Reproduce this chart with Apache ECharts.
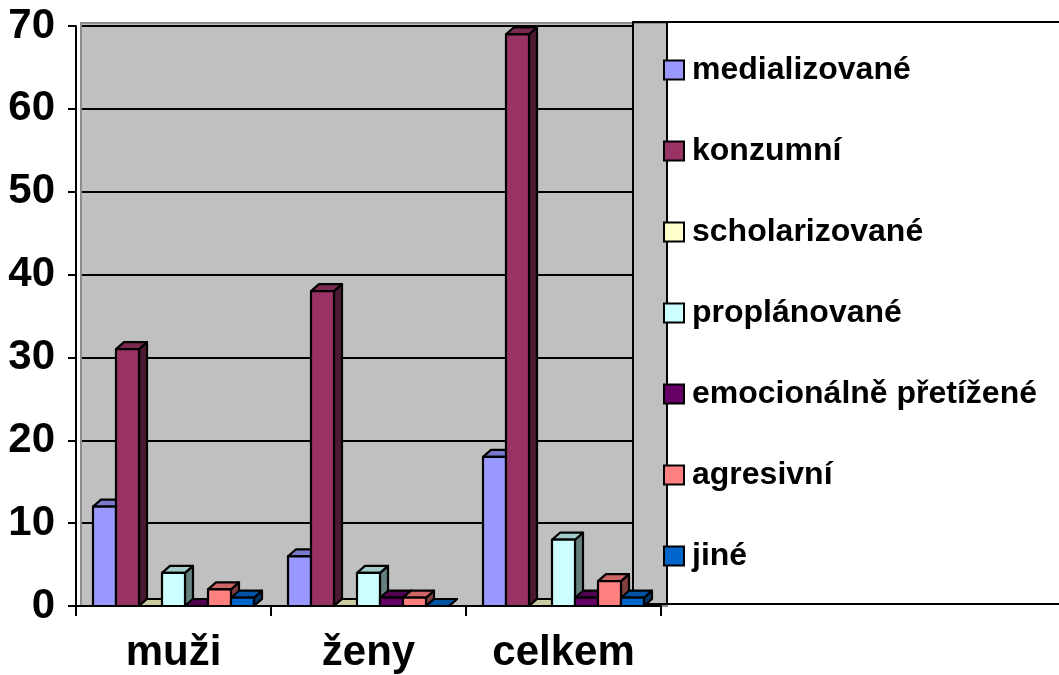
<!DOCTYPE html>
<html>
<head>
<meta charset="utf-8">
<script src="https://cdn.jsdelivr.net/npm/echarts@6/dist/echarts.min.js"></script>
<style>
  html, body { margin: 0; padding: 0; background: #fff; }
  #chart { width: 1059px; height: 675px; }
</style>
</head>
<body>
<div id="chart"></div>
<script>
// data
var categories = ["muži", "ženy", "celkem"];
var seriesNames = ["medializované", "konzumní", "scholarizované", "proplánované",
  "emocionálně přetížené", "agresivní", "jiné"];
var medializovane = [12, 6, 18];
var konzumni = [31, 38, 69];
var scholarizovane = [0, 0, 0];
var proplanovane = [4, 4, 8];
var emocionalne = [0, 1, 1];
var agresivni = [2, 1, 3];
var jine = [1, 0, 1];
var seriesValues = [medializovane, konzumni, scholarizovane, proplanovane, emocionalne, agresivni, jine];
var colors = ["#9999FF", "#993366", "#FFFFCC", "#CCFFFF", "#660066", "#FF8080", "#0066CC"];

var FONT = "'Liberation Sans', Arial, sans-serif";

// darken a hex colour
function shade(hex, k) {
  var n = parseInt(hex.slice(1), 16);
  var r = Math.round(((n >> 16) & 255) * k);
  var g = Math.round(((n >> 8) & 255) * k);
  var b = Math.round((n & 255) * k);
  return "rgb(" + r + "," + g + "," + b + ")";
}

// 3D looking bar (front + top + side)
function makeRenderItem(si) {
  return function (params, api) {
    var idx = api.value(0);
    var val = api.value(1);
    var base = api.coord([idx, 0]);
    var top = api.coord([idx, val]);
    var band = api.size([1, 0])[0];
    var w = band * 23 / 195;
    var x0 = base[0] - 3.5 * w + si * w;
    var dx = 8, dy = 7;
    var ty = top[1], by = base[1];
    var c = colors[si];
    var st = { stroke: "#000", lineWidth: 2.2, lineJoin: "round" };
    return {
      type: "group",
      children: [
        {
          type: "polygon",
          shape: { points: [[x0 + w, ty], [x0 + w + dx, ty - dy], [x0 + w + dx, by - dy], [x0 + w, by]] },
          style: Object.assign({ fill: shade(c, 0.5) }, st)
        },
        {
          type: "polygon",
          shape: { points: [[x0, ty], [x0 + dx, ty - dy], [x0 + w + dx, ty - dy], [x0 + w, ty]] },
          style: Object.assign({ fill: shade(c, 0.8) }, st)
        },
        {
          type: "rect",
          shape: { x: x0, y: ty, width: w, height: by - ty },
          style: Object.assign({ fill: c }, st)
        }
      ]
    };
  };
}

var series = seriesNames.map(function (name, si) {
  return {
    name: name,
    type: "custom",
    xAxisIndex: 0,
    yAxisIndex: 0,
    renderItem: makeRenderItem(si),
    encode: { x: 0, y: 1 },
    data: seriesValues[si].map(function (v, ci) { return [ci, v]; })
  };
});

var myChart = echarts.init(document.getElementById("chart"));
myChart.setOption({
  animation: false,
  color: colors,
  textStyle: { fontFamily: FONT },
  graphic: [
    // back wall
    { type: "rect", z: 0, shape: { x: 81, y: 23, width: 586, height: 583 },
      style: { fill: "#c0c0c0", stroke: "#8c8c8c", lineWidth: 2 } },
    // legend box
    { type: "rect", z: 0, shape: { x: 667, y: 22, width: 420, height: 582 },
      style: { fill: "#fff", stroke: "#000", lineWidth: 2 } },
    { type: "polyline", z: 0, shape: { points: [[1070, 22], [633, 22], [633, 604], [1070, 604]] },
      style: { fill: null, stroke: "#000", lineWidth: 2 } }
  ],
  grid: [
    { left: 76, top: 26, width: 585, height: 580 },
    { left: 82, top: 26, width: 551, height: 580 }
  ],
  legend: {
    orient: "vertical",
    left: 663,
    top: 54,
    padding: 0,
    itemWidth: 20,
    itemHeight: 19,
    itemGap: 49,
    icon: "rect",
    itemStyle: { borderColor: "#000", borderWidth: 2 },
    textStyle: { fontFamily: FONT, fontSize: 32, fontWeight: "bold", color: "#000", lineHeight: 32, padding: [0, 0, 0, 3] },
    data: seriesNames
  },
  xAxis: [
    {
      type: "category",
      gridIndex: 0,
      data: categories,
      z: 1,
      axisLine: { lineStyle: { color: "#000", width: 2 } },
      axisTick: { show: true, length: 10, lineStyle: { color: "#000", width: 2 } },
      axisLabel: { fontFamily: FONT, fontSize: 42, fontWeight: "bold", color: "#000", margin: 26 },
      splitLine: { show: false }
    },
    {
      type: "category",
      gridIndex: 1,
      data: categories,
      show: false
    }
  ],
  yAxis: [
    {
      type: "value",
      gridIndex: 0,
      min: 0,
      max: 70,
      interval: 10,
      z: 1,
      axisLine: { show: true, lineStyle: { color: "#000", width: 2 } },
      axisTick: { show: true, length: 8, lineStyle: { color: "#000", width: 2 } },
      axisLabel: { fontFamily: FONT, fontSize: 42, fontWeight: "bold", color: "#000", margin: 21 },
      splitLine: { show: false }
    },
    {
      type: "value",
      gridIndex: 1,
      min: 0,
      max: 70,
      interval: 10,
      z: 1,
      axisLine: { show: false },
      axisTick: { show: false },
      axisLabel: { show: false },
      splitLine: { show: true, lineStyle: { color: "#000", width: 2 } }
    }
  ],
  series: series
});
</script>
</body>
</html>
